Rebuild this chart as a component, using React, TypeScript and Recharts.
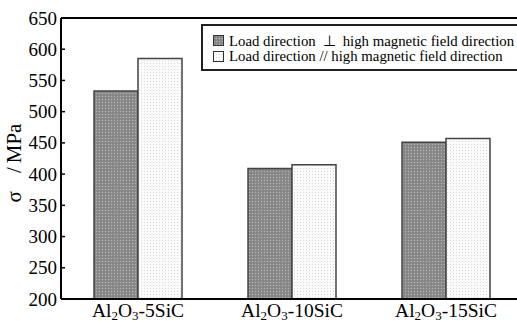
import { Bar, BarChart, Label, ReferenceLine, XAxis, YAxis } from "recharts";

const SIC = ["5SiC", "10SiC", "15SiC"];
const PERP = [533, 409, 451];
const PARA = [585, 415, 457];
const Y_TICKS = [200, 250, 300, 350, 400, 450, 500, 550, 600, 650];

const SERIF = '"Liberation Serif", "Times New Roman", serif';
const data = SIC.map((s, i) => ({ name: s, perp: PERP[i], para: PARA[i] }));

const AXIS_X = 61;

function YTick({ y, payload }: any) {
  return (
    <g>
      <line x1={AXIS_X} x2={AXIS_X + 4} y1={y} y2={y} stroke="#000" strokeWidth={1.5} />
      <text x={AXIS_X - 4} y={y} dy={6.5} textAnchor="end" style={{ fontFamily: SERIF }} fontSize={19} fill="#000">
        {payload.value}
      </text>
    </g>
  );
}

function XTick({ x, payload }: any) {
  return (
    <text x={x} y={316.5} textAnchor="middle" style={{ fontFamily: SERIF }} fontSize={19.5} fill="#000">
      Al<tspan dy={3.5} fontSize={13}>2</tspan>
      <tspan dy={-3.5}>O</tspan><tspan dy={3.5} fontSize={13}>3</tspan>
      <tspan dy={-3.5}>-{payload.value}</tspan>
    </text>
  );
}

function YLabel() {
  return (
    <text transform="translate(21,163) rotate(-90)" textAnchor="middle" style={{ fontFamily: SERIF }} fontSize={21} fill="#000">
      σ<tspan dx={18}>/</tspan><tspan dx={4}>MPa</tspan>
    </text>
  );
}

const swatch = (fill: string) => (
  <svg width={11} height={11} style={{ display: "block" }}>
    <rect x={0.5} y={0.5} width={10} height={10} fill={fill} stroke="#333" strokeWidth={1} />
  </svg>
);

function LegendBox() {
  const rows = [
    { fill: "url(#darkDots)", text: <>Load direction<span style={{ margin: "0 7px" }}>⊥</span>high magnetic field direction</> },
    { fill: "url(#lightDots)", text: <>Load direction // high magnetic field direction</> },
  ];
  return (
    <div style={{
      position: "absolute", left: 201, top: 24, width: 320, boxSizing: "border-box",
      border: "2px solid #222", background: "#fff", padding: "7px 0 5px 10px",
      fontFamily: SERIF, fontSize: 14.8, color: "#000",
    }}>
      {rows.map((r, i) => (
        <div key={i} style={{ display: "flex", alignItems: "center", gap: 5, height: 15.5, whiteSpace: "nowrap" }}>
          {swatch(r.fill)}
          <span>{r.text}</span>
        </div>
      ))}
    </div>
  );
}

export default function App() {
  return (
    <div style={{ position: "absolute", left: 0, top: 0, width: 517, height: 322, overflow: "hidden", background: "#fff" }}>
      <BarChart width={530} height={322} data={data} barSize={44} barGap={0}
        margin={{ top: 18, right: 7, bottom: 0, left: 0 }}>
        <defs>
          <pattern id="darkDots" width={3} height={3} patternUnits="userSpaceOnUse">
            <rect width={3} height={3} fill="#8c8c8c" />
            <rect width={1} height={1} fill="#b4b4b4" />
            <rect x={1.5} y={1.5} width={1} height={1} fill="#747474" />
          </pattern>
          <pattern id="lightDots" width={3} height={3} patternUnits="userSpaceOnUse">
            <rect width={3} height={3} fill="#fbfbfb" />
            <rect width={1} height={1} fill="#d8d8d8" />
          </pattern>
        </defs>
        <XAxis dataKey="name" height={23} tickLine={false} tick={<XTick />}
          axisLine={{ stroke: "#000", strokeWidth: 2 }} interval={0} />
        <YAxis width={AXIS_X} domain={[200, 650]} ticks={Y_TICKS} allowDataOverflow
          tickLine={false} tick={<YTick />} axisLine={{ stroke: "#000", strokeWidth: 2 }}>
          <Label content={<YLabel />} />
        </YAxis>
        <ReferenceLine y={650} stroke="#000" strokeWidth={2} ifOverflow="extendDomain" />
        <Bar dataKey="perp" fill="url(#darkDots)" stroke="#444" strokeWidth={1.5} isAnimationActive={false} />
        <Bar dataKey="para" fill="url(#lightDots)" stroke="#444" strokeWidth={1.5} isAnimationActive={false} />
      </BarChart>
      <LegendBox />
    </div>
  );
}
